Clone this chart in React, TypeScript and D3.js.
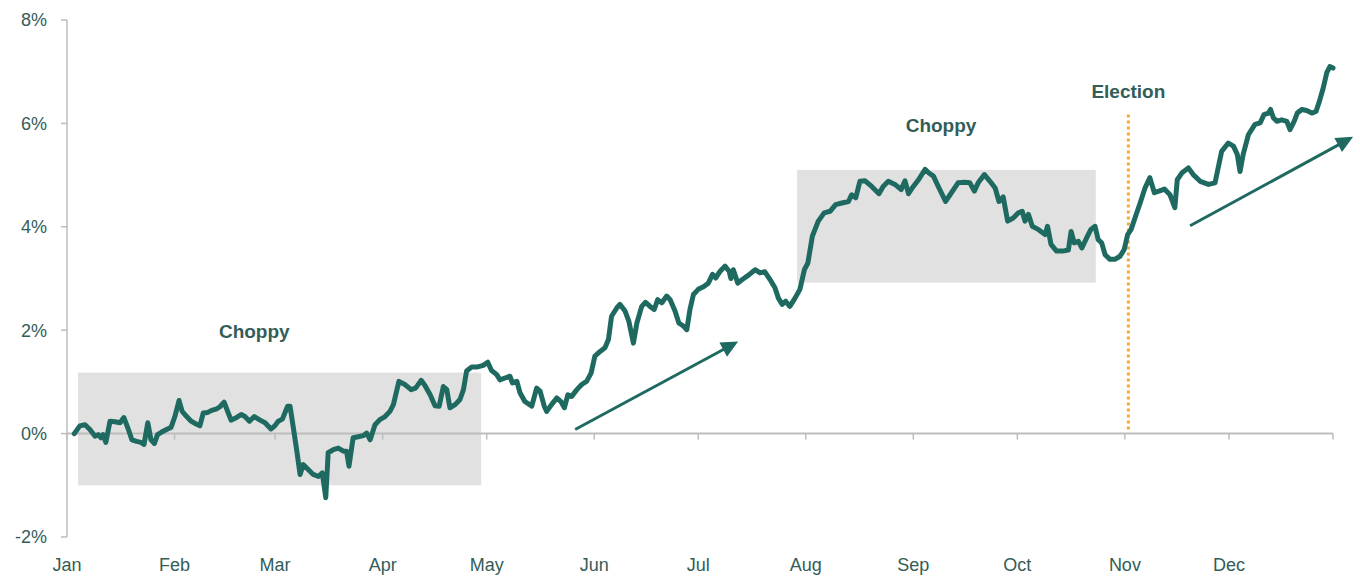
import { useMemo } from "react";
import * as d3 from "d3";

// day index from Jan 1 (leap year) and cumulative return in %
const days = [
  2.1, 3.7, 5.2, 6.6, 8.1, 9.0, 9.8, 10.4, 11.2, 12.4, 13.8, 15.3, 16.4, 17.7, 18.7, 20.1, 21.3, 22.2, 23.3, 24.2,
  25.2, 26.1, 27.3, 28.7, 30.0, 31.1, 32.3, 33.2, 34.5, 35.8, 37.1, 38.3, 39.3, 40.6, 41.7, 43.2, 44.1, 45.3, 46.2, 47.3,
  48.6, 50.2, 51.3, 52.6, 54.0, 55.4, 57.1, 58.8, 59.8, 60.9, 62.1, 63.6, 64.3, 65.2, 66.2, 67.2, 68.1, 69.6, 71.0, 72.5,
  73.6, 74.6, 75.3, 76.8, 78.2, 79.7, 80.6, 81.3, 82.5, 84.0, 85.4, 86.4, 87.4, 88.8, 90.2, 91.7, 93.1, 94.1, 95.7, 97.4,
  99.2, 100.5, 102.1, 103.2, 104.7, 106.1, 107.3, 108.5, 109.5, 110.4, 111.9, 113.3, 114.3, 115.2, 116.7, 118.4, 120.0, 121.3, 122.4, 123.9,
  124.8, 126.5, 127.7, 128.4, 129.7, 130.6, 132.0, 134.0, 135.4, 136.4, 137.6, 138.3, 139.7, 141.2, 142.4, 143.4, 144.4, 145.5, 147.0, 148.4,
  149.8, 151.1, 152.2, 153.7, 155.1, 156.1, 157.0, 158.5, 159.4, 160.9, 162.0, 163.3, 164.3, 165.7, 166.8, 168.1, 169.3, 170.3, 171.5, 172.9,
  173.9, 175.3, 176.4, 177.7, 178.7, 179.6, 180.6, 182.0, 183.5, 184.9, 186.1, 187.0, 188.3, 189.7, 190.9, 191.4, 192.1, 193.4, 194.7, 196.4,
  198.4, 199.8, 201.2, 202.7, 204.1, 205.1, 206.2, 207.2, 208.4, 209.9, 211.3, 212.6, 213.6, 214.9, 216.6, 218.3, 220.0, 221.6, 223.4, 225.3,
  226.2, 227.4, 228.6, 230.1, 232.0, 234.1, 235.3, 236.8, 238.7, 240.5, 241.6, 242.6, 244.0, 245.5, 247.4, 248.5, 249.8, 251.2, 253.3, 254.6,
  256.9, 258.9, 260.3, 261.6, 262.7, 264.5, 266.1, 267.6, 268.7, 269.9, 271.2, 272.8, 274.3, 275.4, 276.2, 277.2, 278.3, 280.0, 282.0, 282.7,
  283.7, 285.3, 287.0, 288.7, 289.5, 290.4, 291.6, 292.6, 294.0, 295.2, 296.4, 297.3, 298.3, 299.3, 300.7, 302.1, 303.6, 304.8, 305.8, 306.8,
  307.9, 309.4, 310.8, 312.2, 313.5, 314.8, 316.4, 318.0, 319.4, 320.1, 321.4, 323.3, 324.7, 326.7, 329.1, 331.0, 331.9, 332.9, 334.8, 336.3,
  337.4, 338.2, 339.1, 340.6, 342.5, 344.0, 345.1, 346.4, 347.0, 347.8, 348.8, 350.2, 351.7, 352.6, 353.8, 354.7, 356.0, 357.4, 358.9, 360.1,
  361.1, 362.2, 363.2, 364.1, 365.0,
];
const returns = [
  0.0, 0.15, 0.17, 0.08, -0.05, -0.02, -0.08, -0.02, -0.17, 0.24, 0.23, 0.21, 0.31, 0.08, -0.12, -0.15, -0.17, -0.21, 0.21, -0.12,
  -0.19, -0.02, 0.03, 0.08, 0.12, 0.33, 0.64, 0.43, 0.33, 0.24, 0.19, 0.15, 0.4, 0.41, 0.45, 0.48, 0.52, 0.61, 0.45, 0.26,
  0.3, 0.37, 0.33, 0.24, 0.33, 0.27, 0.21, 0.09, 0.14, 0.24, 0.28, 0.53, 0.53, 0.14, -0.31, -0.79, -0.6, -0.7, -0.79, -0.83,
  -0.76, -1.24, -0.37, -0.31, -0.28, -0.34, -0.34, -0.63, -0.08, -0.06, -0.04, 0.01, -0.12, 0.17, 0.27, 0.33, 0.43, 0.56, 1.01, 0.95,
  0.85, 0.88, 1.03, 0.93, 0.75, 0.54, 0.53, 0.91, 0.85, 0.5, 0.56, 0.66, 0.85, 1.21, 1.29, 1.29, 1.32, 1.38, 1.22, 1.14,
  1.04, 1.08, 1.11, 0.98, 1.01, 0.79, 0.62, 0.53, 0.88, 0.82, 0.53, 0.43, 0.56, 0.69, 0.62, 0.5, 0.75, 0.72, 0.85, 0.95,
  1.01, 1.17, 1.5, 1.59, 1.66, 1.82, 2.27, 2.43, 2.5, 2.37, 2.17, 1.75, 2.14, 2.46, 2.54, 2.46, 2.4, 2.59, 2.53, 2.66,
  2.59, 2.37, 2.14, 2.08, 2.01, 2.4, 2.69, 2.79, 2.84, 2.91, 3.08, 3.01, 3.14, 3.24, 3.14, 3.0, 3.17, 2.91, 2.98, 3.06,
  3.17, 3.11, 3.13, 2.98, 2.82, 2.62, 2.5, 2.56, 2.46, 2.62, 2.79, 3.17, 3.3, 3.82, 4.11, 4.27, 4.3, 4.43, 4.46, 4.49,
  4.62, 4.56, 4.88, 4.89, 4.78, 4.64, 4.78, 4.88, 4.82, 4.72, 4.89, 4.64, 4.78, 4.91, 5.11, 5.04, 4.98, 4.78, 4.49, 4.62,
  4.85, 4.86, 4.85, 4.69, 4.85, 5.01, 4.88, 4.75, 4.49, 4.58, 4.11, 4.17, 4.27, 4.3, 4.11, 4.24, 4.01, 3.95, 3.85, 4.01,
  3.66, 3.53, 3.53, 3.55, 3.91, 3.69, 3.72, 3.59, 3.79, 3.95, 4.01, 3.75, 3.69, 3.46, 3.37, 3.37, 3.43, 3.56, 3.85, 3.95,
  4.17, 4.46, 4.75, 4.95, 4.66, 4.69, 4.73, 4.62, 4.37, 4.91, 5.04, 5.14, 5.01, 4.88, 4.82, 4.85, 5.14, 5.46, 5.62, 5.56,
  5.4, 5.07, 5.4, 5.78, 5.98, 6.01, 6.17, 6.2, 6.27, 6.11, 6.04, 6.07, 6.04, 5.88, 6.04, 6.2, 6.27, 6.25, 6.2, 6.23,
  6.43, 6.69, 6.98, 7.1, 7.07,
];

const yTicks = [-2, 0, 2, 4, 6, 8];
const monthLabels = ["Jan", "Feb", "Mar", "Apr", "May", "Jun", "Jul", "Aug", "Sep", "Oct", "Nov", "Dec"];

// shaded "choppy" periods: [startDay, endDay, low %, high %]
const choppyBoxes = [
  [3.2, 119.4, -1.0, 1.18],
  [210.5, 296.6, 2.92, 5.1],
];
const choppyLabels = [
  { day: 54, value: 1.84, text: "Choppy" },
  { day: 252, value: 5.84, text: "Choppy" },
];
// trend arrows: [fromDay, fromValue, toDay, toValue]
const trendArrows = [
  [146.5, 0.08, 193.5, 1.78],
  [323.8, 4.02, 370.8, 5.74],
];
const electionDay = 306;
const electionTop = 6.17;

const W = 1360;
const H = 577;
const TEAL = "#1e6a60";
const TEXT = "#335d57";
const AXIS = "#bdbdbd";
const FONT = "'Liberation Sans', Arial, sans-serif";

const start = new Date(Date.UTC(2020, 0, 1));
const end = new Date(Date.UTC(2020, 11, 31));
const dayToDate = (d: number) => new Date(start.getTime() + d * 86400000);

export default function App() {
  const x = d3.scaleUtc().domain([start, end]).range([67, 1333]);
  const y = d3.scaleLinear().domain([-2, 8]).range([537, 20]);

  const points = useMemo(() => days.map((d, i) => [d, returns[i]] as [number, number]), []);
  const line = d3
    .line<[number, number]>()
    .x((p) => x(dayToDate(p[0])))
    .y((p) => y(p[1]));

  const months = d3.utcMonth.range(start, new Date(Date.UTC(2021, 0, 1)));
  const x0 = x(start);

  const arrowHead = (fx: number, fy: number, tx: number, ty: number) => {
    const ang = Math.atan2(ty - fy, tx - fx);
    const len = 17;
    const half = 8;
    const bx = tx - len * Math.cos(ang);
    const by = ty - len * Math.sin(ang);
    const px = -Math.sin(ang) * half;
    const py = Math.cos(ang) * half;
    return `M${tx},${ty}L${bx + px},${by + py}L${bx - px},${by - py}Z`;
  };

  return (
    <svg
      width={W}
      height={H}
      style={{ position: "absolute", left: 0, top: 0, background: "#fff" }}
      fontFamily={FONT}
    >
      {/* shaded boxes */}
      {choppyBoxes.map(([d0, d1, lo, hi], i) => (
        <rect
          key={i}
          x={x(dayToDate(d0))}
          y={y(hi)}
          width={x(dayToDate(d1)) - x(dayToDate(d0))}
          height={y(lo) - y(hi)}
          fill="#e1e1e1"
        />
      ))}

      {/* y axis */}
      <line x1={x0} x2={x0} y1={y(8)} y2={y(-2)} stroke={AXIS} strokeWidth={1.5} />
      {yTicks.map((t) => (
        <g key={t}>
          <line x1={x0 - 6} x2={x0} y1={y(t)} y2={y(t)} stroke={AXIS} strokeWidth={1.5} />
          <text x={x0 - 20} y={y(t)} dy="0.36em" textAnchor="end" fontSize={18} fill={TEXT}>
            {t}%
          </text>
        </g>
      ))}

      {/* x axis at 0% */}
      <line x1={x0} x2={x(end)} y1={y(0)} y2={y(0)} stroke={AXIS} strokeWidth={2} />
      {months.map((m, i) => (
        <g key={i}>
          <line x1={x(m)} x2={x(m)} y1={y(0)} y2={y(0) + 6} stroke={AXIS} strokeWidth={1.5} />
          <text x={x(m)} y={571} textAnchor="middle" fontSize={18} fill={TEXT}>
            {monthLabels[i]}
          </text>
        </g>
      ))}
      <line x1={x(end)} x2={x(end)} y1={y(0)} y2={y(0) + 6} stroke={AXIS} strokeWidth={1.5} />

      {/* election marker */}
      <line
        x1={x(dayToDate(electionDay))}
        x2={x(dayToDate(electionDay))}
        y1={y(electionTop)}
        y2={y(0) - 2}
        stroke="#f5a93a"
        strokeWidth={3}
        strokeDasharray="3 3"
      />
      <text
        x={x(dayToDate(electionDay))}
        y={y(electionTop) - 17}
        textAnchor="middle"
        fontSize={19}
        fontWeight="bold"
        fill={TEXT}
      >
        Election
      </text>

      {/* main series */}
      <path d={line(points) ?? ""} fill="none" stroke={TEAL} strokeWidth={5} strokeLinejoin="round" strokeLinecap="round" />

      {/* trend arrows */}
      {trendArrows.map(([d0, v0, d1, v1], i) => {
        const fx = x(dayToDate(d0));
        const fy = y(v0);
        const tx = x(dayToDate(d1));
        const ty = y(v1);
        const ang = Math.atan2(ty - fy, tx - fx);
        return (
          <g key={i}>
            <line
              x1={fx}
              y1={fy}
              x2={tx - 12 * Math.cos(ang)}
              y2={ty - 12 * Math.sin(ang)}
              stroke={TEAL}
              strokeWidth={3}
            />
            <path d={arrowHead(fx, fy, tx, ty)} fill={TEAL} />
          </g>
        );
      })}

      {/* labels */}
      {choppyLabels.map((l, i) => (
        <text
          key={i}
          x={x(dayToDate(l.day))}
          y={y(l.value)}
          textAnchor="middle"
          fontSize={19}
          fontWeight="bold"
          fill={TEXT}
        >
          {l.text}
        </text>
      ))}
    </svg>
  );
}
